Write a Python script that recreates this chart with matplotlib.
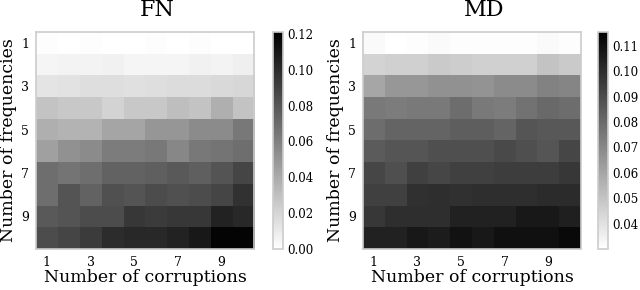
import numpy as np
import matplotlib
matplotlib.use("Agg")
import matplotlib.pyplot as plt

# rows: number of frequencies 1..10, cols: number of corruptions 1..10
fn_values = [
    [0.001, 0.000, 0.001, 0.000, 0.000, 0.001, 0.000, 0.001, 0.000, 0.000],
    [0.005, 0.006, 0.006, 0.007, 0.005, 0.005, 0.005, 0.007, 0.006, 0.008],
    [0.013, 0.014, 0.016, 0.016, 0.015, 0.016, 0.017, 0.017, 0.018, 0.019],
    [0.028, 0.026, 0.026, 0.021, 0.026, 0.026, 0.031, 0.028, 0.038, 0.028],
    [0.038, 0.036, 0.036, 0.043, 0.043, 0.050, 0.050, 0.055, 0.055, 0.064],
    [0.045, 0.052, 0.055, 0.062, 0.062, 0.064, 0.057, 0.064, 0.066, 0.069],
    [0.069, 0.066, 0.069, 0.074, 0.074, 0.076, 0.078, 0.076, 0.081, 0.088],
    [0.069, 0.081, 0.074, 0.083, 0.081, 0.085, 0.083, 0.085, 0.088, 0.097],
    [0.078, 0.081, 0.085, 0.085, 0.095, 0.093, 0.095, 0.095, 0.104, 0.102],
    [0.085, 0.088, 0.093, 0.100, 0.102, 0.102, 0.104, 0.109, 0.119, 0.119],
]
md_values = [
    [0.032, 0.030, 0.031, 0.032, 0.031, 0.031, 0.031, 0.031, 0.032, 0.031],
    [0.045, 0.046, 0.046, 0.048, 0.047, 0.046, 0.046, 0.046, 0.050, 0.048],
    [0.060, 0.065, 0.065, 0.067, 0.067, 0.066, 0.069, 0.069, 0.072, 0.071],
    [0.075, 0.074, 0.075, 0.075, 0.079, 0.075, 0.074, 0.077, 0.080, 0.079],
    [0.079, 0.082, 0.082, 0.082, 0.084, 0.084, 0.082, 0.087, 0.086, 0.086],
    [0.085, 0.087, 0.087, 0.089, 0.089, 0.089, 0.091, 0.089, 0.087, 0.092],
    [0.092, 0.089, 0.094, 0.092, 0.094, 0.094, 0.095, 0.095, 0.095, 0.097],
    [0.094, 0.094, 0.099, 0.100, 0.099, 0.100, 0.100, 0.100, 0.101, 0.101],
    [0.097, 0.100, 0.100, 0.100, 0.104, 0.104, 0.104, 0.107, 0.107, 0.105],
    [0.104, 0.104, 0.107, 0.106, 0.109, 0.107, 0.110, 0.110, 0.110, 0.112],
]
tick_labels = [1, 3, 5, 7, 9]

plt.rcParams["font.family"] = "DejaVu Serif"
edge = "#cccccc"

fig = plt.figure(figsize=(6.4, 2.9), dpi=100)

panels = [
    ("FN", fn_values, 0.0, 0.121, [0.00, 0.02, 0.04, 0.06, 0.08, 0.10, 0.12],
     [36, 273], 157),
    ("MD", md_values, 0.030, 0.1155, [0.04, 0.05, 0.06, 0.07, 0.08, 0.09, 0.10, 0.11],
     [363, 598], 484),
]

for title, vals, vmin, vmax, cticks, (x0, cx0), tx in panels:
    data = np.array(vals)
    ax = fig.add_axes([x0 / 640, 1 - 249 / 290, 218 / 640, 217 / 290])
    cax = fig.add_axes([cx0 / 640, 1 - 249 / 290, 10 / 640, 217 / 290])
    im = ax.imshow(data, cmap="gray_r", vmin=vmin, vmax=vmax, aspect="auto",
                   interpolation="nearest", extent=(0.5, 10.5, 10.5, 0.5))
    ax.set_xticks(tick_labels)
    ax.set_yticks(tick_labels)
    ax.tick_params(length=0, labelsize=9, pad=5)
    ax.set_xlabel("Number of corruptions", fontsize=12.5, labelpad=0)
    ax.set_ylabel("Number of frequencies", fontsize=12.5, labelpad=3)
    for s in ax.spines.values():
        s.set_color(edge)
        s.set_linewidth(1.2)
    cb = fig.colorbar(im, cax=cax, ticks=cticks)
    cb.ax.set_yticklabels([f"{t:.2f}" for t in cticks])
    cb.ax.tick_params(length=0, labelsize=8.5, pad=3)
    cb.outline.set_edgecolor(edge)
    cb.outline.set_linewidth(1.2)
    fig.text(tx / 640, 1 - 10 / 290, title, ha="center", va="center", fontsize=16)

fig.savefig("out.png", dpi=100)
